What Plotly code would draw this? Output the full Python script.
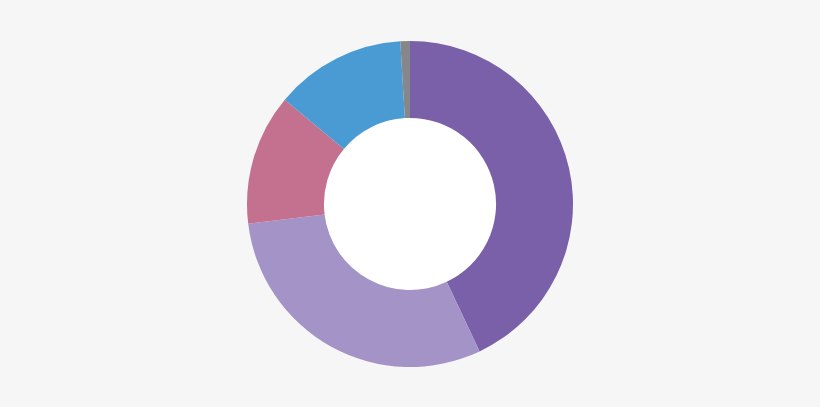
import plotly.graph_objects as go

# Slice values (percent), clockwise from 12 o'clock
categories = ["Segment 1", "Segment 2", "Segment 3", "Segment 4", "Segment 5"]
values = [43.0, 30.1, 13.0, 13.0, 0.95]
colors = ["#7a60a9", "#a493c7", "#c4708f", "#4a9bd4", "#85878a"]

W, H = 820, 407
top, bottom = 41, 40
hole = 0.528
BG = "#f6f6f6"

fig = go.Figure()
fig.add_trace(go.Pie(
    labels=categories,
    values=values,
    hole=hole,
    sort=False,
    direction="clockwise",
    rotation=0,
    marker=dict(colors=colors, line=dict(width=0)),
    textinfo="none",
    hoverinfo="label+percent",
    showlegend=False,
))

# white fill behind the donut hole
r_out = (H - top - bottom) / 2
r_in = r_out * hole
cy = bottom + r_out
fig.add_shape(
    type="circle", xref="paper", yref="paper", layer="below",
    x0=(W / 2 - r_in) / W, x1=(W / 2 + r_in) / W,
    y0=(cy - r_in - bottom) / (H - top - bottom),
    y1=(cy + r_in - bottom) / (H - top - bottom),
    fillcolor="#ffffff", line=dict(width=0),
)

fig.update_layout(
    width=W,
    height=H,
    margin=dict(l=0, r=0, t=top, b=bottom),
    paper_bgcolor=BG,
    plot_bgcolor=BG,
)

# drop the default page margin so the figure fills the window
fig.write_html(
    "out.html",
    config={"displayModeBar": False},
    post_script=(
        "document.body.style.margin='0';"
        f"document.body.style.background='{BG}';"
    ),
)
